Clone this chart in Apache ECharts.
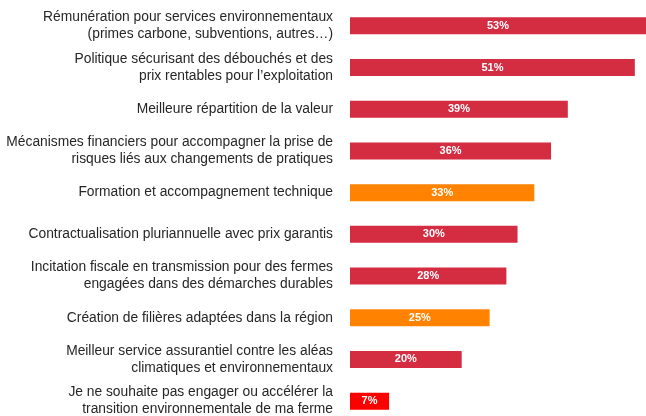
<!DOCTYPE html>
<html>
<head>
<meta charset="utf-8">
<script src="https://cdn.jsdelivr.net/npm/echarts@6/dist/echarts.min.js"></script>
<style>
html,body{margin:0;padding:0;background:#fff;}
#chart{width:646px;height:416px;}
</style>
</head>
<body>
<div id="chart"></div>
<script>
// categories, top to bottom
var categories = [
	'Rémunération pour services environnementaux\n(primes carbone, subventions, autres…)',
	'Politique sécurisant des débouchés et des\nprix rentables pour l’exploitation',
	'Meilleure répartition de la valeur',
	'Mécanismes financiers pour accompagner la prise de\nrisques liés aux changements de pratiques',
	'Formation et accompagnement technique',
	'Contractualisation pluriannuelle avec prix garantis',
	'Incitation fiscale en transmission pour des fermes\nengagées dans des démarches durables',
	'Création de filières adaptées dans la région',
	'Meilleur service assurantiel contre les aléas\nclimatiques et environnementaux',
	'Je ne souhaite pas engager ou accélérer la\ntransition environnementale de ma ferme'
];
var values = [53, 51, 39, 36, 33, 30, 28, 25, 20, 7];
// couleur par barre
var barColors = ['#D42D42','#D42D42','#D42D42','#D42D42','#FF8200','#D42D42','#D42D42','#FF8200','#D42D42','#FF0000'];

var myChart = echarts.init(document.getElementById('chart'));

var seriesData = [];
for (var i = 0; i < values.length; i++) {
	seriesData.push({
		value: values[i],
		itemStyle: { color: barColors[i] }
	});
}

var option = {
	animation: false,
	grid: {
		left: 350,
		right: 0,
		top: 5,
		height: 417,
		outerBoundsMode: 'none'
	},
	xAxis: {
		type: 'value',
		min: 0,
		max: 53,
		show: false
	},
	yAxis: {
		type: 'category',
		inverse: true,
		data: categories,
		axisLine: { show: false },
		axisTick: { show: false },
		axisLabel: {
			margin: 17,
			color: '#262626',
			fontFamily: 'Liberation Sans, Arial, sans-serif',
			fontSize: 13.8,
			lineHeight: 17,
			align: 'right'
		}
	},
	series: [{
		type: 'bar',
		data: seriesData,
		barWidth: 17,
		label: {
			show: true,
			position: 'inside',
			color: '#fff',
			fontFamily: 'Liberation Sans, Arial, sans-serif',
			fontSize: 11,
			fontWeight: 'bold',
			formatter: '{c}%'
		}
	}]
};

myChart.setOption(option);
</script>
</body>
</html>
